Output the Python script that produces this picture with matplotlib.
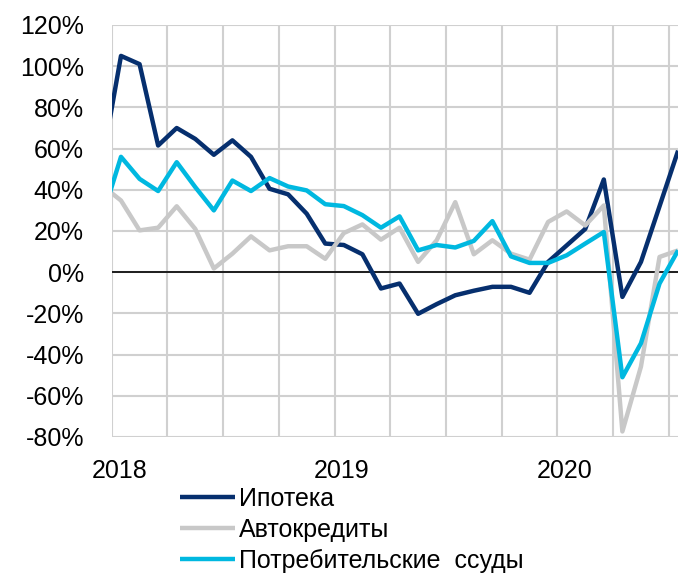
import numpy as np
import matplotlib.pyplot as plt
from matplotlib.ticker import FixedLocator

plt.rcParams['font.family'] = ['Liberation Sans', 'DejaVu Sans']

# monthly points, month index relative to Jan 2018 (points sit mid-month)
months = np.arange(-0.5, 31.0, 1.0)

mortgage = [54, 105, 101, 61.5, 70, 64.7, 57, 64, 56, 40.5, 37.8, 28.4,
            13.9, 13.2, 8.7, -7.9, -5.5, -20.2, -15.5, -11.2, -9, -7.1, -7.1, -10,
            5, 13, 21, 45, -12, 5, 32, 59]
auto = [42, 34.8, 20.3, 21.6, 32, 21, 1.8, 9, 17.4, 10.6, 12.6, 12.6,
        6.5, 19, 23.2, 15.8, 21.6, 5, 15.5, 34, 8.7, 15.5, 9, 6.1,
        24.4, 29.5, 22.7, 32.4, -77.3, -45.8, 7.4, 10.6]
consumer = [27, 56, 45.3, 39.4, 53.4, 41.3, 30, 44.5, 39.4, 45.7, 41.6, 39.7,
            33, 32.1, 27.7, 21.6, 27.1, 10.6, 13.2, 12, 15.2, 24.8, 7.7, 4.5,
            4.5, 8.2, 13.9, 19.5, -51, -34.5, -5.5, 10.6]

labels = ['Ипотека', 'Автокредиты', 'Потребительские  ссуды']
colors = ['#062f6e', '#c8c8c8', '#00b8e0']
year_labels = ['2018', '2019', '2020']
year_pos = [0.4, 12.4, 24.4]
y_ticks = np.arange(-80, 121, 20)

fig = plt.figure(figsize=(6.82, 5.74), dpi=100)
ax = fig.add_axes([111.7 / 682, 1 - 437 / 574, 566.4 / 682, 412 / 574])

for vals, lab, col in zip([mortgage, auto, consumer], labels, colors):
    ax.plot(months, vals, color=col, lw=3.2, label=lab, zorder=3,
            solid_joinstyle='round', solid_capstyle='butt')

ax.axhline(0, color='black', lw=1.2, zorder=2)

ax.set_xlim(0, 30.5)
ax.set_ylim(-80, 120)
ax.yaxis.set_major_locator(FixedLocator(y_ticks))
ax.set_yticklabels([f'{int(v)}%' for v in y_ticks])
ax.xaxis.set_major_locator(FixedLocator(year_pos))
ax.set_xticklabels(year_labels)
ax.xaxis.set_minor_locator(FixedLocator(np.arange(0, 31, 3)))

ax.grid(axis='y', color='#d0d0d0', lw=1.5, zorder=1)
ax.grid(axis='x', which='minor', color='#d0d0d0', lw=1.5, zorder=1)
ax.grid(axis='x', which='major', visible=False)
ax.tick_params(axis='both', which='both', length=0, labelsize=18)
ax.tick_params(axis='y', pad=20)
ax.tick_params(axis='x', pad=16)
for s in ax.spines.values():
    s.set_visible(False)

fig.legend(loc='upper left', bbox_to_anchor=(180 / 682, 1 - 487 / 574),
           frameon=False, fontsize=18, handlelength=2.2, handletextpad=0.15,
           labelspacing=0.28, borderpad=0, borderaxespad=0)

fig.savefig('out.png', dpi=100)
